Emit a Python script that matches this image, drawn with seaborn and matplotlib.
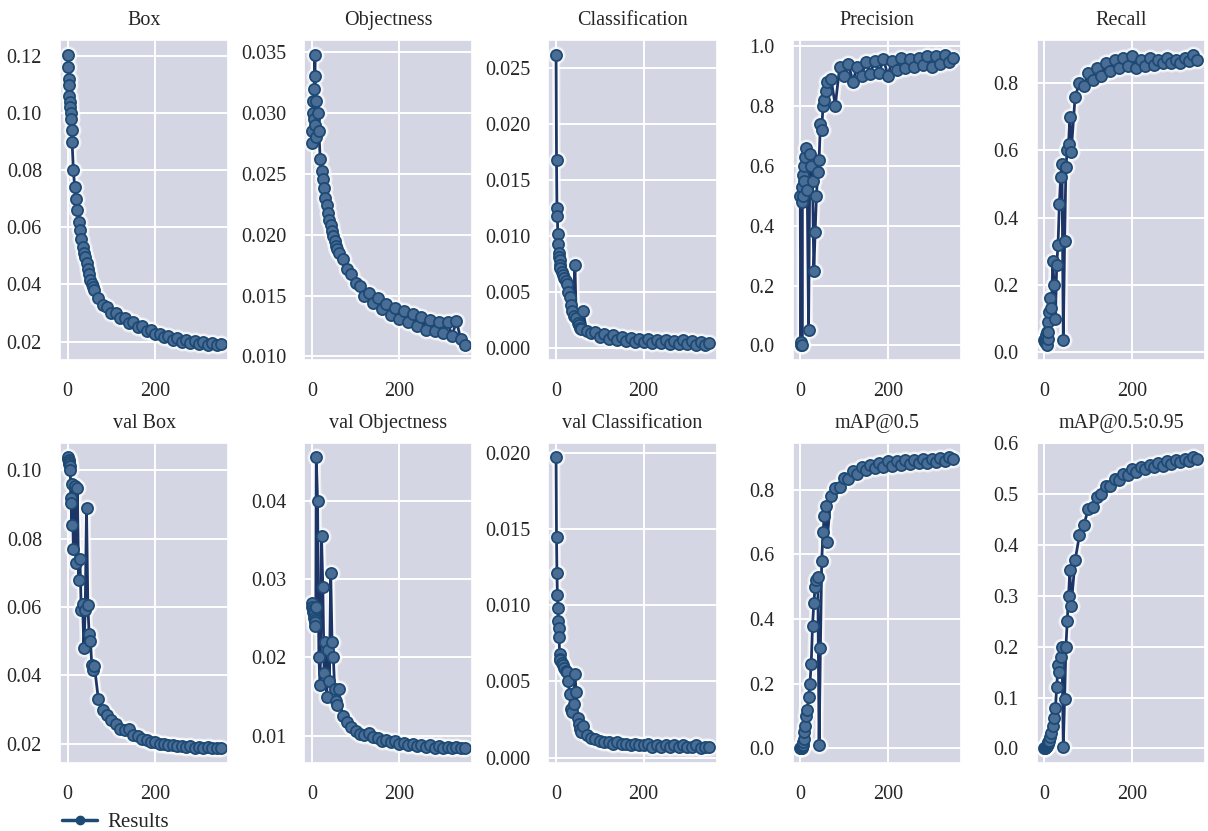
import numpy as np
import pandas as pd
import matplotlib
matplotlib.use("Agg")
import matplotlib.pyplot as plt
from matplotlib.ticker import MultipleLocator
from matplotlib.lines import Line2D
import seaborn as sns

# Epochs (dense early, every 10 later)
epochs = list(range(0, 11)) + list(range(13, 62, 3)) + list(range(70, 341, 10)) + [349]

box = [0.1205, 0.1160, 0.1120, 0.1100, 0.1060, 0.1040, 0.1020, 0.1000, 0.0980, 0.0940, 0.0900,
       0.0800, 0.0740, 0.0700, 0.0660, 0.0620, 0.0590, 0.0560, 0.0530, 0.0510, 0.0495, 0.0475,
       0.0455, 0.0435, 0.0415, 0.0400, 0.0390, 0.0380,
       0.0352, 0.0328, 0.0322, 0.0300, 0.0300, 0.0282, 0.0284, 0.0266, 0.0268, 0.0252, 0.0254,
       0.0238, 0.0241, 0.0226, 0.0228, 0.0215, 0.0219, 0.0206, 0.0211, 0.0200, 0.0205, 0.0194,
       0.0201, 0.0190, 0.0198, 0.0187, 0.0195, 0.0186, 0.0190]

objectness = [0.0275, 0.0285, 0.0300, 0.0310, 0.0295, 0.0320, 0.0330, 0.0348, 0.0290, 0.0310, 0.0280,
              0.0300, 0.0285, 0.0262, 0.0252, 0.0246, 0.0238, 0.0230, 0.0224, 0.0218, 0.0212, 0.0208,
              0.0203, 0.0199, 0.0195, 0.0191, 0.0188, 0.0185,
              0.0180, 0.0172, 0.0168, 0.0160, 0.0158, 0.0150, 0.0152, 0.0144, 0.0148, 0.0139, 0.0143,
              0.0134, 0.0140, 0.0131, 0.0137, 0.0128, 0.0135, 0.0125, 0.0132, 0.0122, 0.0130, 0.0121,
              0.0128, 0.0119, 0.0128, 0.0117, 0.0129, 0.0114, 0.0109]

classification = [0.0262, 0.0168, 0.0125, 0.0118, 0.0102, 0.0093, 0.0085, 0.0081, 0.0078, 0.0074, 0.0071,
                  0.0068, 0.0065, 0.0062, 0.0060, 0.0057, 0.0050, 0.0045, 0.0038, 0.0033, 0.0028, 0.0074,
                  0.0027, 0.0022, 0.0020, 0.0018, 0.0017, 0.0033,
                  0.0015, 0.0013, 0.0014, 0.0010, 0.0012, 0.0008, 0.0011, 0.0007, 0.0010, 0.0006, 0.0009,
                  0.0005, 0.0008, 0.0005, 0.0008, 0.0004, 0.0007, 0.0004, 0.0007, 0.0003, 0.0006, 0.0003,
                  0.0007, 0.0003, 0.0006, 0.0002, 0.0005, 0.0002, 0.0004]

precision = [0.50, 0.00, 0.01, 0.48, 0.00, 0.53, 0.57, 0.50, 0.60, 0.55, 0.63,
             0.66, 0.52, 0.05, 0.64, 0.60, 0.55, 0.25, 0.38, 0.50, 0.58, 0.62,
             0.74, 0.72, 0.80, 0.82, 0.85, 0.88,
             0.89, 0.80, 0.93, 0.90, 0.94, 0.88, 0.93, 0.90, 0.945, 0.905, 0.95,
             0.91, 0.955, 0.90, 0.95, 0.92, 0.96, 0.925, 0.955, 0.93, 0.96, 0.935,
             0.965, 0.93, 0.965, 0.94, 0.97, 0.945, 0.96]

recall = [0.035, 0.030, 0.040, 0.030, 0.050, 0.020, 0.060, 0.040, 0.090, 0.060, 0.120,
          0.160, 0.130, 0.270, 0.200, 0.100, 0.260, 0.320, 0.440, 0.520, 0.560, 0.035,
          0.330, 0.550, 0.600, 0.620, 0.700, 0.595,
          0.760, 0.800, 0.790, 0.830, 0.810, 0.845, 0.820, 0.860, 0.835, 0.870, 0.845,
          0.875, 0.850, 0.880, 0.845, 0.870, 0.850, 0.875, 0.855, 0.870, 0.860, 0.875,
          0.860, 0.870, 0.860, 0.875, 0.865, 0.885, 0.870]

val_box = [0.1035, 0.1038, 0.1030, 0.1025, 0.1018, 0.1012, 0.1002, 0.0920, 0.0905, 0.0840, 0.0960,
           0.0770, 0.0955, 0.0730, 0.0950, 0.0680, 0.0740, 0.0590, 0.0610, 0.0480, 0.0590, 0.0890,
           0.0605, 0.0520, 0.0500, 0.0430, 0.0415, 0.0428,
           0.0330, 0.0300, 0.0285, 0.0268, 0.0258, 0.0243, 0.0240, 0.0242, 0.0226, 0.0222, 0.0213,
           0.0212, 0.0204, 0.0204, 0.0199, 0.0200, 0.0195, 0.0196, 0.0192, 0.0194, 0.0190, 0.0192,
           0.0188, 0.0190, 0.0187, 0.0189, 0.0186, 0.0188, 0.0186]

val_objectness = [0.0270, 0.0265, 0.0262, 0.0258, 0.0255, 0.0250, 0.0248, 0.0245, 0.0240, 0.0265, 0.0455,
                  0.0400, 0.0200, 0.0165, 0.0355, 0.0290, 0.0180, 0.0220, 0.0150, 0.0210, 0.0170, 0.0308,
                  0.0220, 0.0200, 0.0160, 0.0145, 0.0140, 0.0160,
                  0.0125, 0.0118, 0.0112, 0.0106, 0.0103, 0.0101, 0.0104, 0.0098, 0.0097, 0.0094, 0.0095,
                  0.0092, 0.0093, 0.0090, 0.0091, 0.0088, 0.0090, 0.0087, 0.0089, 0.0086, 0.0088, 0.0085,
                  0.0087, 0.0085, 0.0086, 0.0084, 0.0086, 0.0084, 0.0085]

val_classification = [0.0197, 0.0145, 0.0121, 0.0107, 0.0098, 0.0090, 0.0085, 0.0079, 0.0068, 0.0065, 0.0064,
                      0.0062, 0.0061, 0.0059, 0.0057, 0.0056, 0.0050, 0.0042, 0.0032, 0.0030, 0.0035, 0.0055,
                      0.0043, 0.0026, 0.0022, 0.0019, 0.0017, 0.0021,
                      0.0015, 0.0013, 0.0012, 0.0011, 0.0010, 0.0010, 0.0009, 0.0010, 0.0009, 0.0009, 0.0008,
                      0.0009, 0.0008, 0.0008, 0.0009, 0.0007, 0.0008, 0.0007, 0.0008, 0.0007, 0.0008, 0.0007,
                      0.0008, 0.0007, 0.0007, 0.0008, 0.0006, 0.0007, 0.0007]

map50 = [0.002, 0.000, 0.001, 0.003, 0.005, 0.008, 0.012, 0.020, 0.030, 0.050, 0.070,
         0.100, 0.120, 0.160, 0.200, 0.260, 0.380, 0.450, 0.500, 0.520, 0.530, 0.010,
         0.310, 0.580, 0.670, 0.720, 0.750, 0.640,
         0.780, 0.805, 0.810, 0.838, 0.832, 0.858, 0.850, 0.872, 0.860, 0.878, 0.868,
         0.884, 0.872, 0.888, 0.875, 0.890, 0.878, 0.892, 0.880, 0.893, 0.882, 0.895,
         0.884, 0.896, 0.886, 0.898, 0.888, 0.900, 0.895]

map50_95 = [0.000, 0.000, 0.001, 0.002, 0.003, 0.004, 0.006, 0.008, 0.010, 0.012, 0.015,
            0.022, 0.030, 0.045, 0.060, 0.080, 0.120, 0.165, 0.150, 0.180, 0.200, 0.003,
            0.098, 0.200, 0.250, 0.300, 0.350, 0.280,
            0.370, 0.420, 0.440, 0.470, 0.475, 0.495, 0.500, 0.515, 0.515, 0.530, 0.528,
            0.540, 0.538, 0.550, 0.543, 0.553, 0.550, 0.558, 0.553, 0.562, 0.556, 0.566,
            0.560, 0.568, 0.563, 0.570, 0.565, 0.572, 0.570]

titles = ["Box", "Objectness", "Classification", "Precision", "Recall",
          "val Box", "val Objectness", "val Classification", "mAP@0.5", "mAP@0.5:0.95"]
series = [box, objectness, classification, precision, recall,
          val_box, val_objectness, val_classification, map50, map50_95]
y_steps = [0.02, 0.005, 0.005, 0.2, 0.2, 0.02, 0.01, 0.005, 0.2, 0.1]

sns.set_theme(style="darkgrid", rc={
    "axes.facecolor": "#d5d6e3",
    "grid.color": "white",
    "grid.linewidth": 1.4,
})
plt.rcParams["font.family"] = ["Liberation Serif", "DejaVu Serif"]

LINE = "#1d3566"
DOT = "#4a6d96"
EDGE = "#1d4a75"

fig, axes = plt.subplots(2, 5, figsize=(12.08, 8.31), dpi=100)
fig.subplots_adjust(left=0.0497, right=0.9975, top=0.9519, bottom=0.0818,
                    wspace=0.452, hspace=0.259)

for ax, title, vals, step in zip(axes.flat, titles, series, y_steps):
    df = pd.DataFrame({"epoch": epochs, "value": vals})
    # soft white glow underneath
    sns.lineplot(data=df, x="epoch", y="value", ax=ax, color="white", linewidth=6,
                 marker="o", markersize=13, markeredgewidth=0, alpha=0.6, sort=False)
    sns.lineplot(data=df, x="epoch", y="value", ax=ax, color="white", linewidth=4,
                 marker="o", markersize=10.5, markeredgewidth=0, alpha=0.9, sort=False)
    # the curve itself
    sns.lineplot(data=df, x="epoch", y="value", ax=ax, color=LINE, linewidth=2,
                 marker="o", markersize=8, markerfacecolor=DOT, markeredgecolor=EDGE,
                 markeredgewidth=1.3, sort=False)
    ax.set_title(title, fontsize=14.5, pad=11)
    ax.set_xlabel("")
    ax.set_ylabel("")
    ax.set_xticks([0, 200])
    ax.yaxis.set_major_locator(MultipleLocator(step))
    ax.tick_params(axis="y", labelsize=14.5, pad=7)
    ax.tick_params(axis="x", labelsize=14.5, pad=10)

handle = Line2D([], [], color=EDGE, linewidth=2.5, marker="o", markersize=6)
fig.legend([handle], ["Results"], loc="center left", frameon=False,
           bbox_to_anchor=(62 / 1208, 1 - 822 / 831), fontsize=15,
           handlelength=1.7, handletextpad=0.5, borderpad=0, borderaxespad=0)

fig.savefig("out.png", dpi=100)
